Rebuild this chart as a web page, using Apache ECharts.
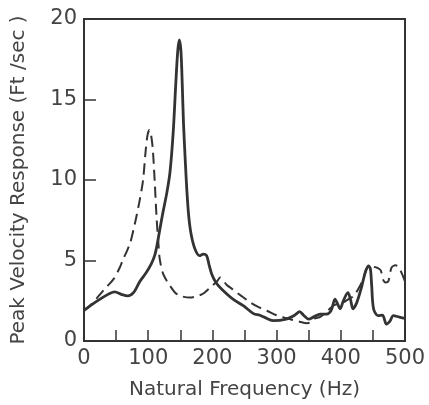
<!DOCTYPE html>
<html>
<head>
<meta charset="utf-8">
<script src="https://cdn.jsdelivr.net/npm/echarts@6/dist/echarts.min.js"></script>
<style>
  html, body { margin: 0; padding: 0; background: #fff; }
  #chart { width: 429px; height: 405px; }
</style>
</head>
<body>
<div id="chart"></div>
<script>
// solid curve: [frequency Hz, peak velocity ft/sec]
var solidData = [
  [0, 1.9], [10, 2.2], [25, 2.6], [40, 2.95], [48, 3.05], [58, 2.9], [68, 2.8],
  [77, 3.0], [87, 3.7], [97, 4.25], [105, 4.8], [110, 5.3], [113, 5.8], [118, 6.9],
  [123, 8.0], [129, 9.2], [134, 10.5], [139, 13], [143, 16], [146, 18], [148.5, 18.7],
  [151, 18], [153, 16], [155, 13.5], [158, 11], [160, 9.5], [163, 7.8], [167, 6.6],
  [173, 5.7], [180, 5.3], [186, 5.4], [191, 5.3], [195, 4.7], [199, 4.15], [206, 3.6],
  [215, 3.2], [232, 2.6], [248, 2.2], [264, 1.7], [274, 1.6], [285, 1.4], [295, 1.26],
  [315, 1.36], [328, 1.6], [336, 1.82], [342, 1.6], [350, 1.36], [358, 1.5], [368, 1.67],
  [378, 1.67], [385, 1.9], [391, 2.6], [395, 2.3], [399, 2.0], [404, 2.5], [411, 3.0],
  [415, 2.6], [419, 2.0], [425, 2.4], [432, 3.3], [438, 4.25], [443, 4.66], [446, 4.5],
  [448, 3.5], [451, 2.0], [458, 1.57], [465, 1.6], [471, 1.05], [476, 1.2], [482, 1.57],
  [490, 1.5], [500, 1.4]
];

// dashed curve
var dashedData = [
  [0, 1.9], [12, 2.3], [25, 2.9], [35, 3.35], [46, 3.84], [55, 4.5], [61, 5.08],
  [67, 5.6], [72, 6.1], [77, 6.9], [82, 7.8], [87, 8.8], [92, 10], [96, 11.8],
  [99, 12.8], [102, 13.1], [104, 12.9], [107, 12], [110, 10], [113, 7.7], [116, 6],
  [118, 5.08], [123, 4.2], [128, 3.8], [134, 3.43], [142, 3.0], [150, 2.8], [165, 2.7],
  [177, 2.8], [186, 2.95], [196, 3.3], [207, 3.7], [212, 3.94], [222, 3.5], [232, 3.2],
  [245, 2.8], [259, 2.4], [272, 2.1], [285, 1.88], [300, 1.6], [311, 1.47], [325, 1.3],
  [336, 1.2], [347, 1.11], [352, 1.15], [360, 1.4], [368, 1.5], [380, 1.9], [388, 2.19],
  [398, 2.35], [404, 2.4], [412, 2.6], [420, 2.8], [430, 3.43], [436, 4.0], [440, 4.46],
  [446, 4.66], [452, 4.6], [456, 4.56], [462, 4.4], [466, 3.8], [470, 3.63], [474, 3.7],
  [479, 4.56], [485, 4.7], [490, 4.6], [495, 4.2], [500, 3.7]
];

var xTitle = "Natural Frequency (Hz)";
var yTitle = "Peak Velocity Response (Ft /sec )";

var ink = "#333";
var font = "DejaVu Sans";

var myChart = echarts.init(document.getElementById("chart"));
var option = {
  animation: false,
  backgroundColor: "#fff",
  grid: {
    left: 84,
    right: 24,
    top: 19,
    bottom: 63,
    show: true,
    borderColor: ink,
    borderWidth: 2
  },
  xAxis: {
    type: "value",
    min: 0,
    max: 500,
    interval: 50,
    name: xTitle,
    nameLocation: "middle",
    nameGap: 39,
    nameTextStyle: { color: "#444", fontSize: 20, fontFamily: font },
    axisLine: { show: true, lineStyle: { color: ink, width: 2 } },
    axisTick: { show: true, inside: true, length: 11, lineStyle: { color: ink, width: 1.5 } },
    axisLabel: {
      color: "#444",
      fontSize: 21,
      fontFamily: font,
      margin: 7,
      formatter: function(v) {
        return v % 100 === 0 ? String(v) : "";
      }
    },
    splitLine: { show: false }
  },
  yAxis: {
    type: "value",
    min: 0,
    max: 20,
    interval: 5,
    name: yTitle,
    nameLocation: "middle",
    nameGap: 55,
    nameTextStyle: { color: "#444", fontSize: 20, fontFamily: font },
    axisLine: { show: true, lineStyle: { color: ink, width: 2 } },
    axisTick: { show: true, inside: true, length: 12, lineStyle: { color: ink, width: 1.5 } },
    axisLabel: { color: "#444", fontSize: 21, fontFamily: font, margin: 7 },
    splitLine: { show: false }
  },
  series: [
    {
      type: "line",
      data: dashedData,
      smooth: 0.3,
      symbol: "none",
      lineStyle: { color: ink, width: 2, type: [11, 6] }
    },
    {
      type: "line",
      data: solidData,
      smooth: 0.3,
      symbol: "none",
      lineStyle: { color: ink, width: 2.8 }
    }
  ]
};
myChart.setOption(option);
</script>
</body>
</html>
